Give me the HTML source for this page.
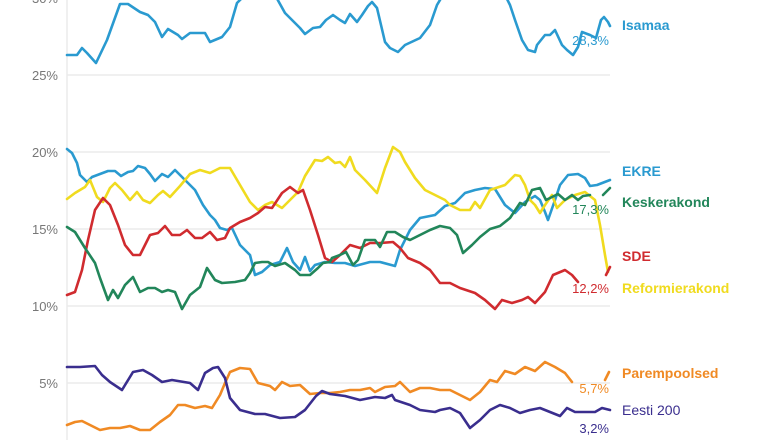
<!DOCTYPE html>
<html><head><meta charset="utf-8"><style>
html,body{margin:0;padding:0;background:#fff;}
svg{display:block;font-family:"Liberation Sans",sans-serif;}
</style></head><body>
<svg width="780" height="440" viewBox="0 0 780 440" xmlns="http://www.w3.org/2000/svg">
<g stroke="#ebebeb" stroke-width="1.5">
<line x1="67" y1="75" x2="610" y2="75"/><line x1="67" y1="152" x2="610" y2="152"/>
<line x1="67" y1="229" x2="610" y2="229"/><line x1="67" y1="306" x2="610" y2="306"/>
<line x1="67" y1="383" x2="610" y2="383"/><line x1="67" y1="0" x2="67" y2="440"/>
</g>
<g fill="#777" font-size="13" text-anchor="end">
<text x="58" y="3">30%</text><text x="58" y="80">25%</text><text x="58" y="157">20%</text>
<text x="58" y="234">15%</text><text x="58" y="311">10%</text><text x="58" y="388">5%</text>
</g>
<g fill="none" stroke-width="2.6" stroke-linejoin="round" stroke-linecap="round">
<polyline stroke="#2a9ad0" points="67,55 77,55 82,48 87,53 96,63 107,40 120,4 128,4 140,12 148,15 155,22 162,37 168,29 178,35 182,39 190,33 205,33 210,42 222,37 230,27 237,3 245,-5 275,-5 285,13 300,28 305,34 313,28 320,27 326,20 333,15 340,20 345,23 350,14 357,22 362,15 368,6 372,2 377,8 385,42 390,48 398,52 405,45 420,38 430,25 437,5 443,-5 505,-5 510,5 515,20 522,40 528,50 535,52 537,45 545,35 550,35 555,30 562,45 567,50 573,55 578,47 582,32 590,35 596,38 601,20 604,17 608,22 610,26"/>
<polyline stroke="#2a9ad0" points="67,149 72,153 77,163 80,175 87,182 92,177 100,174 108,171 115,171 121,176 128,172 133,171 138,166 145,168 150,174 155,181 162,174 168,177 175,170 180,175 188,183 195,190 203,205 210,215 215,220 220,228 227,230 232,228 240,245 250,255 255,275 262,272 270,265 280,262 287,248 293,262 300,270 305,257 310,271 315,265 325,262 335,263 345,263 355,266 370,262 380,262 395,266 400,250 410,230 420,218 435,215 445,206 455,203 465,193 475,190 485,188 495,189 505,205 515,213 525,202 535,196 540,200 545,212 548,220 555,200 560,185 568,175 578,174 585,178 590,186 597,185 610,180"/>
<polyline stroke="#f0db1f" points="67,199 75,193 85,187 90,180 97,197 103,202 110,188 115,183 122,190 130,200 137,192 143,200 150,203 158,195 163,191 170,197 180,186 190,174 200,170 210,173 220,168 230,168 240,185 250,202 258,210 265,205 272,202 282,208 292,198 298,192 305,176 315,160 322,161 328,157 335,163 340,162 345,167 350,157 355,170 365,180 377,193 385,168 393,147 400,152 405,162 415,178 425,190 435,195 445,200 450,205 460,210 470,210 475,202 480,208 490,190 505,185 515,175 520,176 525,185 530,200 535,205 540,213 545,205 552,195 557,208 565,200 575,195 585,192 595,200 600,225 605,255 608,272"/>
<polyline stroke="#d02b2f" points="67,295 75,292 82,270 88,240 95,210 103,198 110,205 118,225 125,245 133,255 140,255 145,245 150,235 158,233 165,226 172,235 180,235 187,230 195,238 202,238 210,232 217,240 225,238 230,228 240,222 250,218 258,213 265,207 272,208 282,193 290,187 298,193 303,190 310,210 318,235 325,258 332,262 340,255 350,245 360,248 370,243 380,243 393,242 400,248 408,258 420,263 430,270 440,283 450,283 460,288 475,293 485,300 495,309 502,300 512,303 522,300 528,297 535,303 545,292 553,275 565,270 572,275 578,282"/>
<polyline stroke="#d02b2f" points="606,275 610,267"/>
<polyline stroke="#22865a" points="67,227 75,232 85,248 95,263 100,278 108,300 113,290 118,298 125,285 133,277 140,292 148,288 155,288 162,292 168,290 175,292 182,309 190,295 200,287 207,268 215,280 222,283 235,282 245,280 250,273 255,263 262,262 268,262 275,266 285,263 295,270 300,275 310,275 318,268 323,263 330,262 332,258 340,255 346,252 353,265 358,260 365,240 375,240 380,247 387,232 395,232 403,237 410,240 420,235 430,230 440,226 450,228 457,235 463,253 472,245 480,237 490,229 500,226 510,218 520,203 525,205 532,190 540,188 546,200 552,197 558,194 565,200 572,195 578,200 583,196 590,195"/>
<polyline stroke="#22865a" points="603,195 610,188"/>
<polyline stroke="#f08a24" points="67,425 75,422 82,421 90,425 100,430 110,428 120,428 130,426 140,430 150,430 160,422 170,415 178,405 185,405 195,408 205,406 212,408 220,395 225,383 230,372 240,368 250,369 258,383 270,386 275,390 282,382 290,386 300,385 310,394 320,393 330,393 340,392 350,390 360,390 370,388 375,392 385,387 395,386 400,382 410,392 420,388 430,388 440,390 450,390 460,395 470,400 480,392 490,380 497,382 505,371 515,374 525,367 535,371 545,362 555,367 565,373 572,382"/>
<polyline stroke="#f08a24" points="605,380 609,372"/>
<polyline stroke="#3a2e8e" points="67,367 80,367 95,366 102,375 110,382 122,390 133,372 143,370 152,375 162,382 172,380 190,383 198,390 205,373 213,368 218,367 225,378 230,398 240,410 255,414 265,414 280,418 295,417 305,410 316,396 322,391 330,394 345,396 360,400 375,397 385,398 392,395 395,400 410,405 420,410 435,412 440,410 450,408 460,413 470,428 480,420 490,410 500,405 510,408 520,413 530,410 540,408 550,412 560,416 567,408 575,412 585,412 595,412 602,408 610,410"/>
</g>
<g font-size="14" font-weight="bold">
<text x="622" y="30" fill="#2a9ad0">Isamaa</text>
<text x="622" y="176" fill="#2a9ad0">EKRE</text>
<text x="622" y="207" fill="#22865a">Keskerakond</text>
<text x="622" y="261" fill="#d02b2f">SDE</text>
<text x="622" y="293" fill="#f0db1f">Reformierakond</text>
<text x="622" y="378" fill="#f08a24">Parempoolsed</text>
<text x="622" y="415" fill="#3a2e8e" font-weight="normal">Eesti 200</text>
</g>
<g font-size="13" text-anchor="end">
<text x="609" y="45" fill="#2a9ad0">28,3%</text>
<text x="609" y="214" fill="#22865a">17,3%</text>
<text x="609" y="293" fill="#d02b2f">12,2%</text>
<text x="609" y="393" fill="#f08a24">5,7%</text>
<text x="609" y="433" fill="#3a2e8e">3,2%</text>
</g>
</svg>
</body></html>
